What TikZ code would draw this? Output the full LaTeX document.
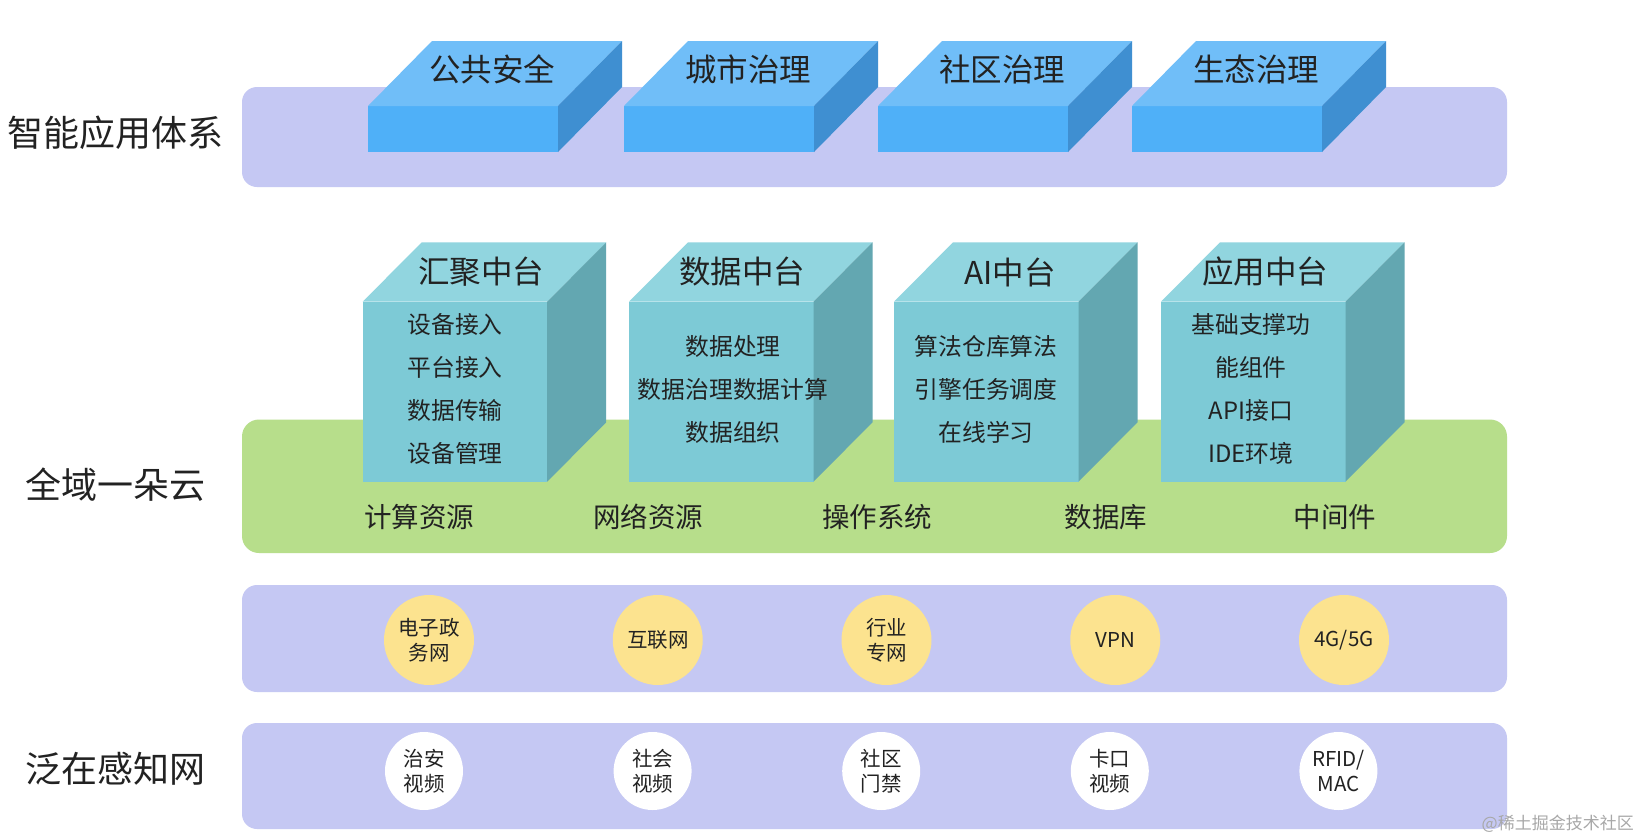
\documentclass[tikz,border=0pt]{standalone}
\usepackage{fontspec}
\setmainfont{Noto Sans CJK SC}
\definecolor{band}{HTML}{C5C8F3}
\definecolor{bfront}{HTML}{4FB0F8}
\definecolor{btop}{HTML}{70BEF8}
\definecolor{bside}{HTML}{3F8FD1}
\definecolor{tfront}{HTML}{7DCAD6}
\definecolor{ttop}{HTML}{91D5DF}
\definecolor{tside}{HTML}{63A7B1}
\definecolor{grn}{HTML}{B7DE8B}
\definecolor{ylw}{HTML}{FCE38F}
\definecolor{txt}{HTML}{222222}
\definecolor{wm}{HTML}{A8A8A8}
\tikzset{
  bandbox/.style={fill=band, rounded corners=15pt},
  sidelabel/.style={text=txt, font=\fontsize{36}{40}\selectfont, inner sep=0pt},
  boxtitle/.style={text=txt, font=\fontsize{31.5}{36}\selectfont, inner sep=0pt},
  cubetitle/.style={text=txt, font=\fontsize{31.5}{36}\selectfont, inner sep=0pt},
  cubeitems/.style={text=txt, font=\fontsize{23.8}{43}\selectfont, align=center, inner sep=0pt},
  greenlabel/.style={text=txt, font=\fontsize{27.5}{30}\selectfont, inner sep=0pt},
  ycircle/.style={circle, fill=ylw, minimum size=90pt, inner sep=0pt, text=txt, align=center, font=\fontsize{20.5}{24.5}\selectfont},
  wcircle/.style={circle, fill=white, minimum size=78pt, inner sep=0pt, text=txt, align=center, font=\fontsize{20.5}{24.5}\selectfont}
}
\begin{document}
\begin{tikzpicture}[x=1pt,y=-1pt]
\useasboundingbox (0,0) rectangle (1641,838);
\fill[white] (0,0) rectangle (1641,838);

% side labels
\node[sidelabel] (l1) at (115,133) {智能应用体系};
\node[sidelabel] (l2) at (115,485) {全域一朵云};
\node[sidelabel] (l3) at (115,769) {泛在感知网};

% band 1 with blue boxes
\fill[bandbox] (242,87) rectangle (1507,187);
\foreach \x/\t [count=\i] in {368/公共安全, 624/城市治理, 878/社区治理, 1132/生态治理} {
  \fill[bfront] (\x,106) rectangle ++(190,46);
  \fill[btop] (\x,106) -- ++(64,-65) -- ++(190,0) -- ++(-64,65) -- cycle;
  \fill[bside] (\x+190,106) -- ++(64,-65) -- ++(0,46) -- ++(-64,65) -- cycle;
  \node[boxtitle] (app\i) at (\x+124,69) {\t};
}

% green band with cubes
\fill[grn, rounded corners=17pt] (242,419.5) rectangle (1507,553);
\foreach \x/\t/\tx/\ix/\items [count=\i] in {
  362.7/汇聚中台/481/455/{设备接入\\平台接入\\数据传输\\设备管理},
  629/数据中台/742/733/{数据处理\\数据治理数据计算\\数据组织},
  894/AI中台/1010/986/{算法仓库算法\\引擎任务调度\\在线学习},
  1161/应用中台/1265/1251/{基础支撑功\\能组件\\API接口\\IDE环境}} {
  \fill[tfront] (\x,301.7) rectangle ++(184.5,180);
  \fill[ttop] (\x,301.7) -- ++(59,-59.4) -- ++(184.5,0) -- ++(-59,59.4) -- cycle;
  \fill[tside] (\x+184.5,301.7) -- ++(59,-59.4) -- ++(0,180) -- ++(-59,59.4) -- cycle;
  \node[cubetitle] (mid\i) at (\tx,272) {\t};
  \node[cubeitems] (items\i) at (\ix,389) {\items};
}
\foreach \t [count=\i] in {计算资源, 网络资源, 操作系统, 数据库, 中间件} {
  \node[greenlabel] (res\i) at ({419+229*(\i-1)},517) {\t};
}

% band 3: networks
\fill[bandbox] (242,585) rectangle (1507,692);
\foreach \t [count=\i] in {{电子政\\务网}, 互联网, {行业\\专网}, VPN, 4G/5G} {
  \node[ycircle] (net\i) at ({429+228.75*(\i-1)},640) {\t};
}

% band 4: sensing
\fill[bandbox] (242,723) rectangle (1507,829);
\foreach \t [count=\i] in {{治安\\视频}, {社会\\视频}, {社区\\门禁}, {卡口\\视频}, {RFID/\\MAC}} {
  \node[wcircle] (sen\i) at ({424+228.6*(\i-1)},771) {\t};
}

% watermark
\node[text=wm, font=\fontsize{17}{20}\selectfont, inner sep=0pt, anchor=east] (wmk) at (1634,824) {@稀土掘金技术社区};
\end{tikzpicture}
\end{document}
